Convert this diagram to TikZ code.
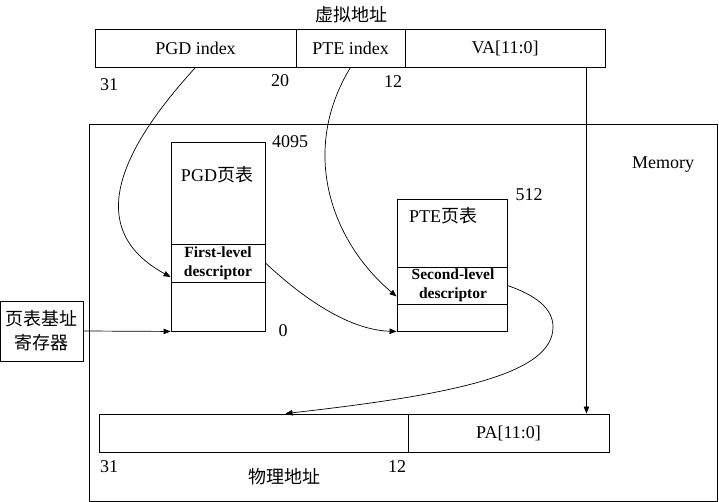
\documentclass[tikz,border=0pt]{standalone}
\usepackage{fontspec}
\setmainfont{Liberation Serif}
\newfontfamily\cjk{Noto Sans CJK SC}
\usetikzlibrary{arrows.meta,calc}
\begin{document}
\begin{tikzpicture}[x=1pt,y=-1pt,
  every node/.style={font=\fontsize{18}{20}\selectfont},
  cell/.style={draw,line width=0.9pt,inner sep=0pt,anchor=center},
  lbl/.style={inner sep=0pt,anchor=center},
  desc/.style={font=\fontsize{15.5}{19}\selectfont\bfseries,align=center,inner sep=0pt},
  conn/.style={line width=0.7pt,-{Triangle[length=7pt,width=5.5pt]}}]
\useasboundingbox (0,0) rectangle (719,502);
% virtual address
\node[lbl] (vtitle) at (351,15) {\cjk 虚拟地址};
\node[cell,minimum width=201,minimum height=38] (va1) at (195.5,48) {PGD index};
\node[cell,minimum width=109,minimum height=38] (va2) at (350.5,48) {PTE index};
\node[cell,minimum width=200,minimum height=38] (va3) at (505,48) {VA[11:0]};
\node[lbl] (n31a) at (109,85) {31};
\node[lbl] (n20) at (280,81) {20};
\node[lbl] (n12a) at (393,82) {12};
% memory
\node[cell,minimum width=628,minimum height=377] (mem) at (403,312.5) {};
\node[lbl] (memt) at (663,165) {Memory};
% PGD table
\node[cell,minimum width=94,minimum height=189] (pgd) at (218,236.5) {};
\node[cell,minimum width=94,minimum height=38] (pgdd) at (218,263) {};
\node[desc] (pgddt) at (218,263) {First-level\\descriptor};
\node[lbl] (pgdt) at (217,175) {PGD{\cjk 页表}};
\node[lbl] (n4095) at (290,142) {4095};
\node[lbl] (n0) at (283,331) {0};
% PTE table
\node[cell,minimum width=110,minimum height=132] (pte) at (452,265) {};
\node[cell,minimum width=110,minimum height=37] (pted) at (452,285.5) {};
\node[desc] (ptedt) at (453,285.5) {Second-level\\descriptor};
\node[lbl] (ptet) at (443,216) {PTE{\cjk 页表}};
\node[lbl] (n512) at (529,195) {512};
% register
\node[cell,minimum width=83,minimum height=60,align=center,font=\fontsize{18}{24}\selectfont\cjk] (reg) at (41.5,331) {页表基址\\寄存器};
% physical address
\node[cell,minimum width=309,minimum height=38] (pa1) at (253.5,433) {};
\node[cell,minimum width=201,minimum height=38] (pa2) at (508.5,433) {PA[11:0]};
\node[lbl] (n31b) at (109,467) {31};
\node[lbl] (n12b) at (397,467) {12};
\node[lbl] (ptitle) at (284,477) {\cjk 物理地址};
% connectors
\coordinate (vaS) at ($(va3.south east)+(-19,0)$);
\coordinate (paN) at ($(pa2.north east)+(-23,0)$);
\draw[conn] (va1.south) .. controls (120,150) and (83,229) .. ($(pgdd.west)+(0,14)$);
\draw[conn] (va2.south) .. controls (300,150) and (330,240) .. ($(pted.west)+(0,11)$);
\draw[conn] (pgdd.east) .. controls (305,300) and (350,330) .. (pte.south west);
\draw[conn] (pted.east) .. controls (535,295) and (553,308) .. (553,327)
  .. controls (553,375) and (450,395) .. ($(pa1.north)+(32,0)$);
\draw[conn] (reg.east) -- (pgd.south west);
\draw[conn] (vaS) -- (paN);
\end{tikzpicture}
\end{document}
